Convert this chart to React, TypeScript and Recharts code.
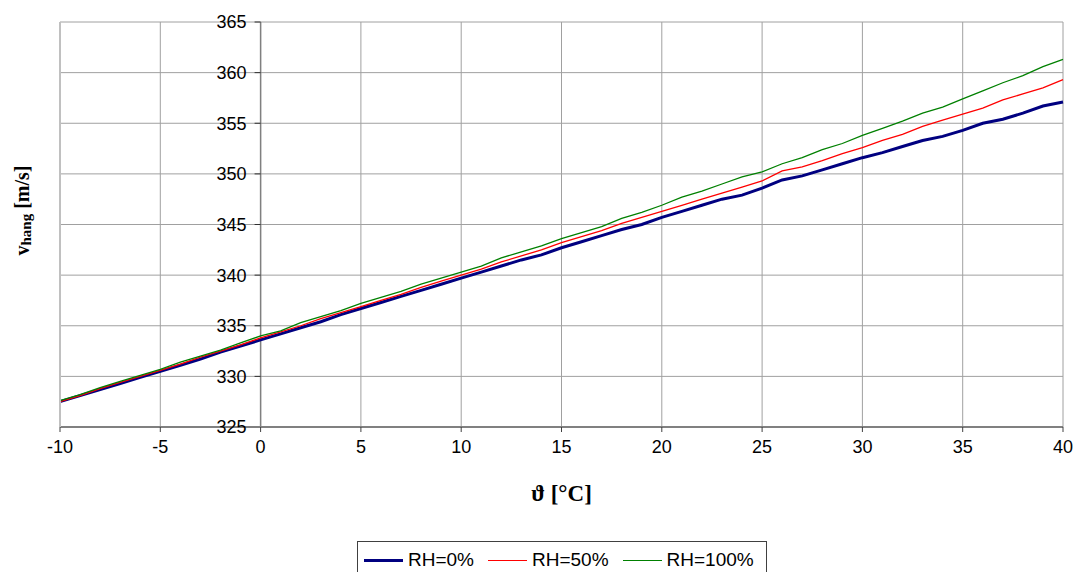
import { LineChart, Line, XAxis, YAxis, CartesianGrid, Legend, ReferenceLine } from 'recharts'

// ─── Data (1 °C steps) ──────────────────────────────────────────────────────
const temps = [
  -10, -9, -8, -7, -6, -5, -4, -3, -2, -1, 0, 1, 2, 3, 4, 5, 6, 7, 8, 9, 10,
  11, 12, 13, 14, 15, 16, 17, 18, 19, 20, 21, 22, 23, 24, 25, 26, 27, 28, 29, 30,
  31, 32, 33, 34, 35, 36, 37, 38, 39, 40,
]
const rh0 = [
  327.5, 328.1, 328.7, 329.3, 329.9, 330.5, 331.1, 331.7, 332.4, 333.0, 333.6,
  334.2, 334.8, 335.4, 336.1, 336.7, 337.3, 337.9, 338.5, 339.1, 339.7,
  340.3, 340.9, 341.5, 342.0, 342.7, 343.3, 343.9, 344.5, 345.0, 345.7,
  346.3, 346.9, 347.5, 347.9, 348.6, 349.4, 349.8, 350.4, 351.0, 351.6,
  352.1, 352.7, 353.3, 353.7, 354.3, 355.0, 355.4, 356.0, 356.7, 357.1,
]
const rh50 = [
  327.5, 328.1, 328.8, 329.4, 330.0, 330.6, 331.2, 331.9, 332.5, 333.1, 333.8,
  334.4, 335.0, 335.7, 336.3, 336.9, 337.5, 338.1, 338.8, 339.4, 340.0,
  340.6, 341.3, 341.9, 342.5, 343.2, 343.8, 344.4, 345.1, 345.7, 346.3,
  346.9, 347.5, 348.1, 348.7, 349.3, 350.3, 350.7, 351.3, 352.0, 352.6,
  353.3, 353.9, 354.7, 355.3, 355.9, 356.5, 357.3, 357.9, 358.5, 359.3,
]
const rh100 = [
  327.6, 328.2, 328.9, 329.5, 330.1, 330.7, 331.4, 332.0, 332.6, 333.3, 334.0,
  334.5, 335.3, 335.9, 336.5, 337.2, 337.8, 338.4, 339.1, 339.7, 340.3,
  340.9, 341.7, 342.3, 342.9, 343.6, 344.2, 344.8, 345.6, 346.2, 346.9,
  347.7, 348.3, 349.0, 349.7, 350.2, 351.0, 351.6, 352.4, 353.0, 353.8,
  354.5, 355.2, 356.0, 356.6, 357.4, 358.2, 359.0, 359.7, 360.6, 361.3,
]
const xTicks = [-10, -5, 0, 5, 10, 15, 20, 25, 30, 35, 40]
const yTicks = [325, 330, 335, 340, 345, 350, 355, 360, 365]

const series = [
  { key: 'rh0', name: 'RH=0%', color: '#000080', width: 3 },
  { key: 'rh50', name: 'RH=50%', color: '#ff0000', width: 1.3 },
  { key: 'rh100', name: 'RH=100%', color: '#008000', width: 1.3 },
]

const data = temps.map((t, i) => ({ t, rh0: rh0[i], rh50: rh50[i], rh100: rh100[i] }))

const sans = 'Liberation Sans, Arial, sans-serif'
const serif = 'Liberation Serif, Times New Roman, serif'
const tickFont = { fontSize: 18, fill: '#000', fontFamily: sans }

// y axis crosses at ϑ = 0, so its ticks are drawn as short segments left of it
const Y_CROSS = 0
const TICK_LEN = 0.3

function YTitle({ viewBox }: any) {
  const x = 22
  const y = viewBox.y + viewBox.height / 2 - 14
  return (
    <text
      x={x}
      y={y}
      transform={`rotate(-90 ${x} ${y})`}
      textAnchor="middle"
      dominantBaseline="central"
      fontFamily={serif}
      fontWeight="bold"
      fontSize={20}
      fill="#000"
    >
      <tspan>v</tspan>
      <tspan fontSize={15} dy={4}>hang</tspan>
      <tspan dy={-4}> [m/s]</tspan>
    </text>
  )
}

function LegendBox() {
  return (
    <div
      style={{
        display: 'flex', alignItems: 'center', border: '1px solid #404040', background: '#fff',
        padding: '2px 0 4px 6px', fontFamily: sans, fontSize: 19,
        width: 410, height: 40, boxSizing: 'border-box',
      }}
    >
      {series.map(s => (
        <div key={s.key} style={{ display: 'flex', alignItems: 'center', marginRight: 14 }}>
          <div style={{ width: 39, height: s.width > 2 ? 3 : 1, background: s.color, marginRight: 5 }} />
          <span>{s.name}</span>
        </div>
      ))}
    </div>
  )
}

export default function App() {
  return (
    <div style={{ position: 'fixed', left: 0, top: 0, width: 1077, height: 572, background: '#fff', overflow: 'hidden' }}>
      <LineChart width={1077} height={572} data={data} margin={{ top: 22, right: 14, left: 0, bottom: 0 }}>
        <CartesianGrid stroke="#a0a0a0" strokeWidth={1} />
        <XAxis
          dataKey="t"
          type="number"
          domain={[-10, 40]}
          ticks={xTicks}
          height={145}
          tick={tickFont}
          tickSize={5}
          tickMargin={8}
          axisLine={{ stroke: '#808080', strokeWidth: 2 }}
          tickLine={{ stroke: '#404040' }}
          label={{
            value: 'ϑ [°C]', position: 'insideTop', offset: 58,
            style: { fontFamily: serif, fontWeight: 'bold', fontSize: 23, fill: '#000' },
          }}
        />
        <YAxis
          type="number"
          domain={[325, 365]}
          ticks={yTicks}
          width={60}
          tick={() => <g />}
          tickLine={false}
          axisLine={{ stroke: '#c0c0c0', strokeWidth: 2 }}
          label={<YTitle />}
        />
        <ReferenceLine x={Y_CROSS} stroke="#808080" strokeWidth={1.5} />
        {yTicks.map(v => (
          <ReferenceLine
            key={v}
            segment={[{ x: Y_CROSS - TICK_LEN, y: v }, { x: Y_CROSS, y: v }]}
            stroke="#303030"
            ifOverflow="visible"
            label={{ value: String(v), position: 'left', offset: 8, style: tickFont }}
          />
        ))}
        <Legend
          layout="vertical"
          align="center"
          verticalAlign="middle"
          content={() => <LegendBox />}
          wrapperStyle={{ position: 'absolute', left: 357, top: 541, width: 410, height: 40 }}
        />
        {series.map(s => (
          <Line
            key={s.key}
            type="linear"
            dataKey={s.key}
            name={s.name}
            stroke={s.color}
            strokeWidth={s.width}
            dot={false}
            isAnimationActive={false}
          />
        ))}
      </LineChart>
    </div>
  )
}
